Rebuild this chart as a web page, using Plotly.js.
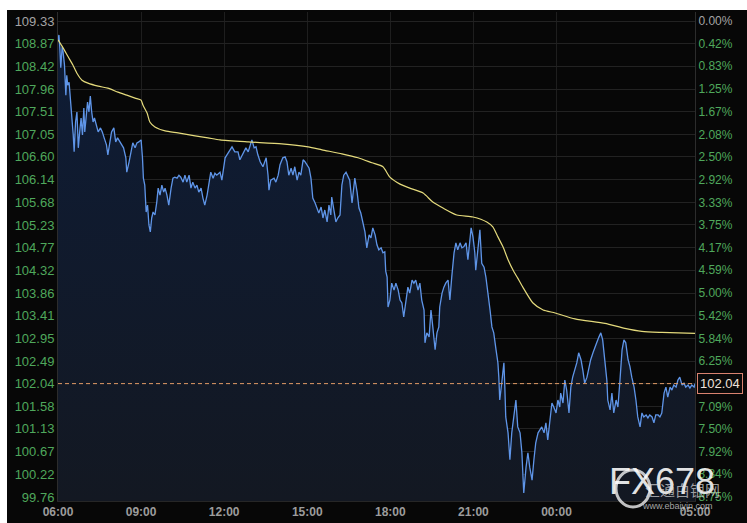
<!DOCTYPE html>
<html>
<head>
<meta charset="utf-8">
<script src="https://cdn.plot.ly/plotly-3.0.1.min.js"></script>
<style>html,body{margin:0;padding:0;background:#fff;}#chart{width:747px;height:523px;}</style>
</head>
<body>
<div id="chart"></div>
<script>
// time axis (minutes after 06:00)
const timeTickMinutes = [0, 180, 360, 540, 720, 900, 1080, 1380];
const timeTickLabels = ['06:00', '09:00', '12:00', '15:00', '18:00', '21:00', '00:00', '05:00'];

// price axis ticks (left) and percent ticks (right)
const priceTicks = [109.33, 108.87, 108.42, 107.96, 107.51, 107.05, 106.60, 106.14, 105.68, 105.23, 104.77,
  104.32, 103.86, 103.41, 102.95, 102.49, 102.04, 101.58, 101.13, 100.67, 100.22, 99.76];
const pctLabels = ['0.00%', '0.42%', '0.83%', '1.25%', '1.67%', '2.08%', '2.50%', '2.92%', '3.33%', '3.75%', '4.17%',
  '4.59%', '5.00%', '5.42%', '5.84%', '6.25%', '6.67%', '7.09%', '7.50%', '7.92%', '8.34%', '8.75%'];

const lastPrice = 102.04;

// price series (minutes after 06:00, price)
const priceMinutes = [
  0,2,4,6,9,11,14,17,19,21, 24,27,30,33,35,38,41,44,47,50, 53,56,58,61,64,67,70,73,76,79,
  83,87,92,96,100,105,108,112,116,121, 125,129,134,138,142,147,149,154,158,162, 167,171,175,180,183,185,188,191,194,197,
  200,203,206,210,214,217,221,225,229,232, 236,240,245,249,253,258,262,266,271,275, 279,284,288,292,297,301,305,310,314,318,
  323,327,331,336,340,344,351,
  355,362,366,373,377,383,390,394,401,407, 412,420,425,429,433,438,444,451,455,457, 461,468,472,477,481,487,492,496,500,505,
  509,513,518,522,526,531,535,539,544,548, 552,557,561,565,570,574,578,583,587,591, 593,598,602,606,611,615,619,624,628,632,
  637,641,643,648,652,656,661,665,669,674, 678,682,687,691,695,700,704,708,710,
  713,715,719,723,728,732,737,741,745,749, 754,758,762,767,771,775,780,784,788,793, 795,799,804,808,812,817,821,825,827,832,
  836,840,845,849,853,858,862,866,871,875, 879,884,888,892,895,899,903,905,910,914, 918,923,927,931,936,940,944,949,953,955,
  957,962,966,968,970,975,977,979,983,988, 992,996,1001,1005,1007,1009,1014,1018,1022,1027, 1031,1035,1040,1044,1048,1053,1057,1061,1066,1070,
  1074,1079,1083,1087,
  1089,1094,1098,1102,1107,1111,1115,1120,1124,1128, 1133,1137,1141,1146,1150,1154,1159,1163,1167,1172, 1176,1180,1185,1189,1191,1196,1200,1204,1209,1213,
  1217,1222,1226,1230,1235,1239,1243,1248,1252,1256, 1261,1265,1269,1274,1278,1282,1287,1291,1295,1300, 1304,1308,1313,1317,1321,1326,1330,1334,1339,1343,
  1347,1352,1356,1360,1365,1369,1373,1378,1380
];
const priceValues = [
  108.95,109.05,108.79,108.39,108.81,108.71,108.45,107.84,108.24,108.04, 108.10,107.78,107.38,107.04,106.70,107.30,107.50,106.78,107.10,107.38,
  107.04,107.58,107.10,107.44,107.70,107.50,107.82,107.50,107.30,107.38, 107.24,107.10,107.18,107.10,106.98,106.84,106.64,106.90,107.10,107.18,
  106.90,106.98,106.90,106.84,106.78,106.58,106.29,106.50,106.70,106.88, 106.78,106.88,106.90,106.94,106.58,106.17,106.03,105.49,105.63,105.23,
  105.09,105.37,105.49,105.43,105.69,105.97,105.83,106.03,105.89,105.97, 105.83,105.63,105.97,106.17,106.19,106.17,106.23,106.19,106.09,106.23,
  106.09,106.23,105.97,106.09,105.97,106.03,105.89,105.97,105.77,105.63, 105.83,106.09,106.29,106.17,106.27,106.23,106.29,
  106.13,106.58,106.64,106.74,106.80,106.70,106.70,106.54,106.68,106.78, 106.70,106.94,106.78,106.80,106.64,106.50,106.40,106.58,106.23,105.93,
  106.13,106.17,106.09,106.23,106.44,106.58,106.60,106.50,106.23,106.37, 106.23,106.40,106.13,106.29,106.23,106.54,106.50,106.44,106.37,106.17,
  105.77,105.67,105.57,105.47,105.59,105.37,105.53,105.29,105.63,105.43, 105.79,105.49,105.29,105.37,105.43,106.03,106.23,106.29,106.19,106.13,
  105.67,105.97,106.17,105.89,105.57,105.47,105.29,105.09,104.77,105.03, 104.97,105.17,105.03,104.83,104.73,104.77,104.67,104.69,104.30,
  104.18,103.58,103.72,104.06,103.92,104.06,103.92,103.72,103.66,103.38, 103.72,103.98,103.86,104.12,104.06,104.12,103.92,104.06,103.72,103.52,
  102.86,103.06,102.98,103.52,103.18,102.72,103.06,103.18,103.58,103.86, 103.98,104.06,104.12,103.72,104.18,104.67,104.87,104.73,104.87,104.77,
  104.79,104.87,104.53,104.93,105.17,104.99,104.67,104.32,104.73,105.13, 104.46,104.38,104.18,103.92,103.52,103.18,103.06,102.72,102.46,102.17,
  101.71,102.11,102.46,101.97,101.37,101.05,100.65,100.51,101.05,101.37, 101.71,101.17,101.05,100.65,100.16,99.84,100.36,100.65,100.36,100.10,
  100.51,100.85,101.05,101.11,101.17,101.05,101.25,100.91,101.31,101.65, 101.57,101.45,101.71,101.57,
  101.85,101.65,102.11,101.91,101.45,101.97,102.17,102.31,102.46,102.66, 102.52,102.31,102.05,102.17,102.38,102.52,102.66,102.78,102.86,102.98,
  103.06,102.92,102.52,102.11,101.71,101.51,101.85,101.45,101.71,101.57, 102.05,102.72,102.92,102.86,102.52,102.38,102.17,101.97,101.71,101.37,
  101.17,101.45,101.37,101.41,101.35,101.41,101.37,101.25,101.41,101.41, 101.37,101.45,101.85,101.97,101.77,101.97,101.91,102.01,101.97,102.11,
  102.17,102.01,102.05,101.97,102.01,101.95,102.01,101.97,102.04
];

// average line
const avgMinutes = [0,11,22,32,41,52,65,87,108,130, 149,167,180,184,193,199,210,232,260,297, 325,351,412,485,542,572,615,650,680,704,
  719,741,762,791,812,834,864,899,929,942, 953,964,975,986,996,1007,1029,1051,1077,1120, 1185,1228,1265,1308,1380];
const avgValues = [108.95,108.79,108.61,108.45,108.28,108.14,108.08,108.02,107.98,107.90, 107.84,107.78,107.74,107.64,107.48,107.30,107.20,107.12,107.08,107.02,
  106.98,106.94,106.90,106.86,106.80,106.74,106.66,106.58,106.48,106.40, 106.19,106.05,105.97,105.87,105.69,105.57,105.43,105.39,105.29,105.19,
  104.99,104.79,104.53,104.32,104.16,103.98,103.66,103.52,103.46,103.34, 103.25,103.15,103.09,103.07,103.05];

const yMin = 99.68, yMax = 109.511;
const FONT = 'Liberation Sans, Arial, sans-serif';

const leftText = priceTicks.map((v, i) => i === 0 ? '<span style="color:#a4a4a4">' + v.toFixed(2) + '</span>' : v.toFixed(2));
const rightText = pctLabels.map((v, i) => i === 0 ? '<span style="color:#a4a4a4">' + v + '</span>' : v);

const traces = [
  {
    x: priceMinutes, y: priceValues, type: 'scatter', mode: 'lines',
    line: {color: '#5f95e8', width: 1.3},
    fill: 'tozeroy',
    fillgradient: {type: 'vertical', start: yMin, stop: 109.1,
      colorscale: [[0, 'rgb(19,24,34)'], [1, 'rgb(14,28,54)']]},
    hoverinfo: 'skip'
  },
  {
    x: avgMinutes, y: avgValues, type: 'scatter', mode: 'lines',
    line: {color: '#e4da7c', width: 1.2, shape: 'spline', smoothing: 0.6},
    hoverinfo: 'skip'
  },
  {
    x: [0], y: [lastPrice], yaxis: 'y2', type: 'scatter', mode: 'markers',
    marker: {opacity: 0}, hoverinfo: 'skip'
  }
];

// paper coordinate helpers for decoration placement (plot spans 58..695 px, 12..501 px)
const px = v => (v - 58) / 637;
const py = v => (501 - v) / 489;

const layout = {
  width: 747, height: 523,
  margin: {l: 58, r: 52, t: 12, b: 22, pad: 0},
  paper_bgcolor: '#070707', plot_bgcolor: '#070707',
  showlegend: false,
  font: {family: FONT},
  xaxis: {
    range: [0, 1380], tickvals: timeTickMinutes, ticktext: timeTickLabels,
    showgrid: true, gridcolor: '#1e1e1e', gridwidth: 1, zeroline: false,
    showline: true, linecolor: '#262626', ticks: '',
    tickfont: {size: 12, color: '#9c9c9c', family: FONT, weight: 'bold'}
  },
  yaxis: {
    range: [yMin, yMax], tickvals: priceTicks, ticktext: leftText,
    showgrid: true, gridcolor: '#222222', gridwidth: 1, zeroline: false,
    showline: true, linecolor: '#2c2c2c', ticks: '',
    tickfont: {size: 13, color: '#4fa85c', family: FONT}
  },
  yaxis2: {
    overlaying: 'y', side: 'right',
    range: [yMin, yMax], tickvals: priceTicks, ticktext: rightText,
    showgrid: false, zeroline: false, showline: true, linecolor: '#2c2c2c', ticks: '',
    tickfont: {size: 12, color: '#4fa85c', family: FONT}
  },
  shapes: [
    {type: 'line', xref: 'x', yref: 'y', x0: 0, x1: 1380, y0: lastPrice, y1: lastPrice,
      line: {color: '#e09a66', width: 1, dash: '4px,3px'}},
    // screenshot white margins
    {type: 'rect', xref: 'paper', yref: 'paper', x0: px(0), x1: px(7), y0: py(523), y1: py(0),
      fillcolor: '#ffffff', line: {width: 0}},
    {type: 'rect', xref: 'paper', yref: 'paper', x0: px(0), x1: px(747), y0: py(10), y1: py(0),
      fillcolor: '#ffffff', line: {width: 0}},
    // watermark logo ring
    {type: 'circle', xref: 'paper', yref: 'paper', x0: px(616), x1: px(650), y0: py(507), y1: py(470),
      line: {color: 'rgba(255,255,255,0.75)', width: 3}}
  ],
  annotations: [
    {xref: 'paper', yref: 'y', x: px(697), y: lastPrice, xanchor: 'left', yanchor: 'middle',
      text: lastPrice.toFixed(2), showarrow: false, bgcolor: '#0a0a0a', bordercolor: '#d9826f',
      borderwidth: 1, borderpad: 2, font: {size: 13, color: '#efe2dc', family: FONT}},
    {xref: 'paper', yref: 'paper', x: px(662), y: py(481), xanchor: 'center', yanchor: 'middle',
      text: 'FX678', showarrow: false, font: {size: 36, color: 'rgba(255,255,255,0.88)', family: FONT}},
    {xref: 'paper', yref: 'paper', x: px(682), y: py(489), xanchor: 'center', yanchor: 'middle',
      text: '汇通白银网', showarrow: false, font: {size: 15, color: 'rgba(220,220,220,0.7)', family: 'Noto Sans CJK SC'}},
    {xref: 'paper', yref: 'paper', x: px(677), y: py(506), xanchor: 'center', yanchor: 'middle',
      text: 'www.ebaiyin.com', showarrow: false, font: {size: 9, color: 'rgba(220,220,220,0.75)', family: FONT}}
  ]
};

if (priceMinutes.length !== priceValues.length || avgMinutes.length !== avgValues.length) {
  console.error('length mismatch', priceMinutes.length, priceValues.length, avgMinutes.length, avgValues.length);
}

Plotly.newPlot('chart', traces, layout, {displayModeBar: false, staticPlot: true});
</script>
</body>
</html>
